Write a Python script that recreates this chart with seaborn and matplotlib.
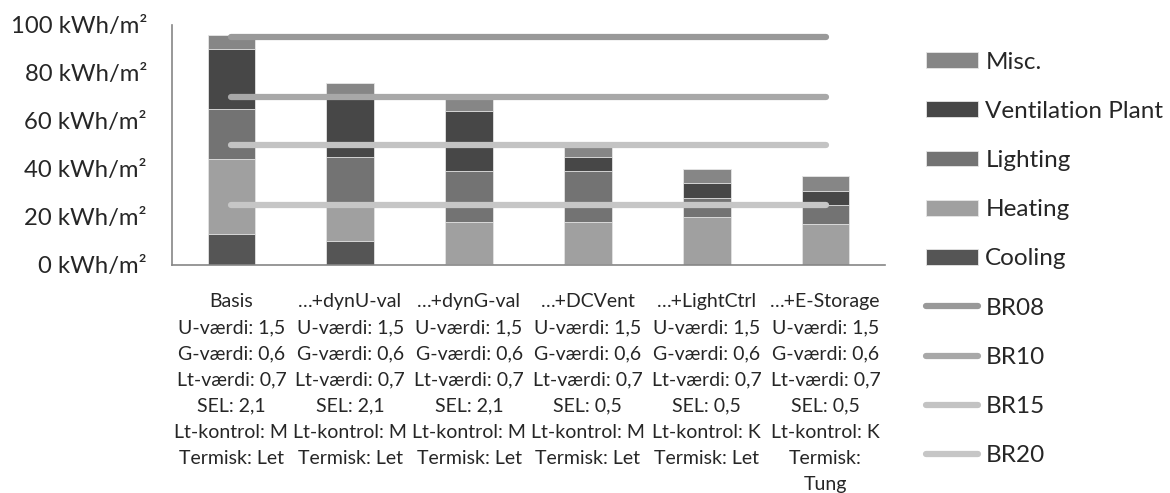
import numpy as np
import pandas as pd
import matplotlib
matplotlib.use("Agg")
import matplotlib.pyplot as plt
import seaborn as sns
from matplotlib.ticker import FixedLocator

# ------------------------------------------------------------------
# Data (kWh/m2 per end use)
scenarios = ["Basis", "…+dynU-val", "…+dynG-val", "…+DCVent", "…+LightCtrl", "…+E-Storage"]
u_vaerdi = ["1,5", "1,5", "1,5", "1,5", "1,5", "1,5"]
g_vaerdi = ["0,6", "0,6", "0,6", "0,6", "0,6", "0,6"]
lt_vaerdi = ["0,7", "0,7", "0,7", "0,7", "0,7", "0,7"]
sel = ["2,1", "2,1", "2,1", "0,5", "0,5", "0,5"]
lt_kontrol = ["M", "M", "M", "M", "K", "K"]
termisk = ["Termisk: Let", "Termisk: Let", "Termisk: Let", "Termisk: Let", "Termisk: Let", "Termisk:\nTung"]

cooling = [13, 10, 0.5, 0.5, 0, 0]
heating = [31, 16, 17.5, 17.5, 20, 17]
lighting = [21, 19, 21, 21, 8, 8]
ventilation = [25, 24, 25, 6, 6, 6]
misc = [6, 7, 5, 4, 6, 6]

br_names = ["BR08", "BR10", "BR15", "BR20"]
br_values = [95, 70, 50, 25]

y_ticks = [0, 20, 40, 60, 80, 100]
# ------------------------------------------------------------------

layers = ["Cooling", "Heating", "Lighting", "Ventilation Plant", "Misc."]
layer_colors = {
    "Cooling": "#555555",
    "Heating": "#a0a0a0",
    "Lighting": "#737373",
    "Ventilation Plant": "#474747",
    "Misc.": "#868686",
}
br_colors = ["#999999", "#a8a8a8", "#c3c3c3", "#c6c6c6"]

df = pd.DataFrame({
    "scenario": scenarios,
    "Cooling": cooling,
    "Heating": heating,
    "Lighting": lighting,
    "Ventilation Plant": ventilation,
    "Misc.": misc,
})
cum = df[layers].cumsum(axis=1)

labels = [
    f"{s}\nU-værdi: {u}\nG-værdi: {g}\nLt-værdi: {lt}\nSEL: {se}\nLt-kontrol: {k}\n{t}"
    for s, u, g, lt, se, k, t in zip(scenarios, u_vaerdi, g_vaerdi, lt_vaerdi, sel, lt_kontrol, termisk)
]

sns.set_style("white")
plt.rcParams["font.family"] = ["Lato", "DejaVu Sans"]

fig = plt.figure(figsize=(11.7, 4.93), dpi=100)
ax = fig.add_axes([172 / 1170, 1 - 265 / 493, (885 - 172) / 1170, (265 - 25) / 493])

# stacked bars: draw cumulative totals from the top layer down
for name in reversed(layers):
    sns.barplot(x=df["scenario"], y=cum[name], color=layer_colors[name], width=0.4,
                saturation=1, label=name, ax=ax, edgecolor="#e6e6e6", linewidth=0.6)

n = len(scenarios)
for name, val, col in zip(br_names, br_values, br_colors):
    ax.plot(np.arange(n), np.full(n, val), color=col, lw=4.5, solid_capstyle="round",
            label=name, zorder=5)

if ax.get_legend() is not None:
    ax.get_legend().remove()

ax.set_xlim(-0.5, n - 0.5)
ax.set_ylim(0, 100)
ax.set_xlabel("")
ax.set_ylabel("")

ax.set_yticks(y_ticks)
ax.set_yticklabels([f"{v} kWh/m²" for v in y_ticks], fontsize=17.2)
ax.set_xticks(range(n))
ax.set_xticklabels(labels, fontsize=14, linespacing=1.66, va="top")
ax.xaxis.set_minor_locator(FixedLocator(np.arange(n + 1) - 0.5))

ax.tick_params(axis="x", which="major", length=0, pad=20)
ax.tick_params(axis="x", which="minor", length=7, width=1, color="#868686", direction="out")
ax.tick_params(axis="y", length=7, width=1, color="#868686", direction="out", pad=11)

sns.despine(ax=ax)
for side in ["left", "bottom"]:
    ax.spines[side].set_color("#868686")
    ax.spines[side].set_linewidth(1.2)

# legend: bar layers (top first) then the BR lines
handles, leg_labels = ax.get_legend_handles_labels()
lookup = dict(zip(leg_labels, handles))
order = list(reversed(layers)) + br_names
fig.legend([lookup[k] for k in order], order, loc="center left",
           bbox_to_anchor=(926 / 1170, 1 - 259 / 493),
           frameon=False, fontsize=17.5, borderpad=0, borderaxespad=0,
           handlelength=2.14, handleheight=0.62, handletextpad=0.3, labelspacing=1.16)

fig.savefig("out.png", dpi=100)
